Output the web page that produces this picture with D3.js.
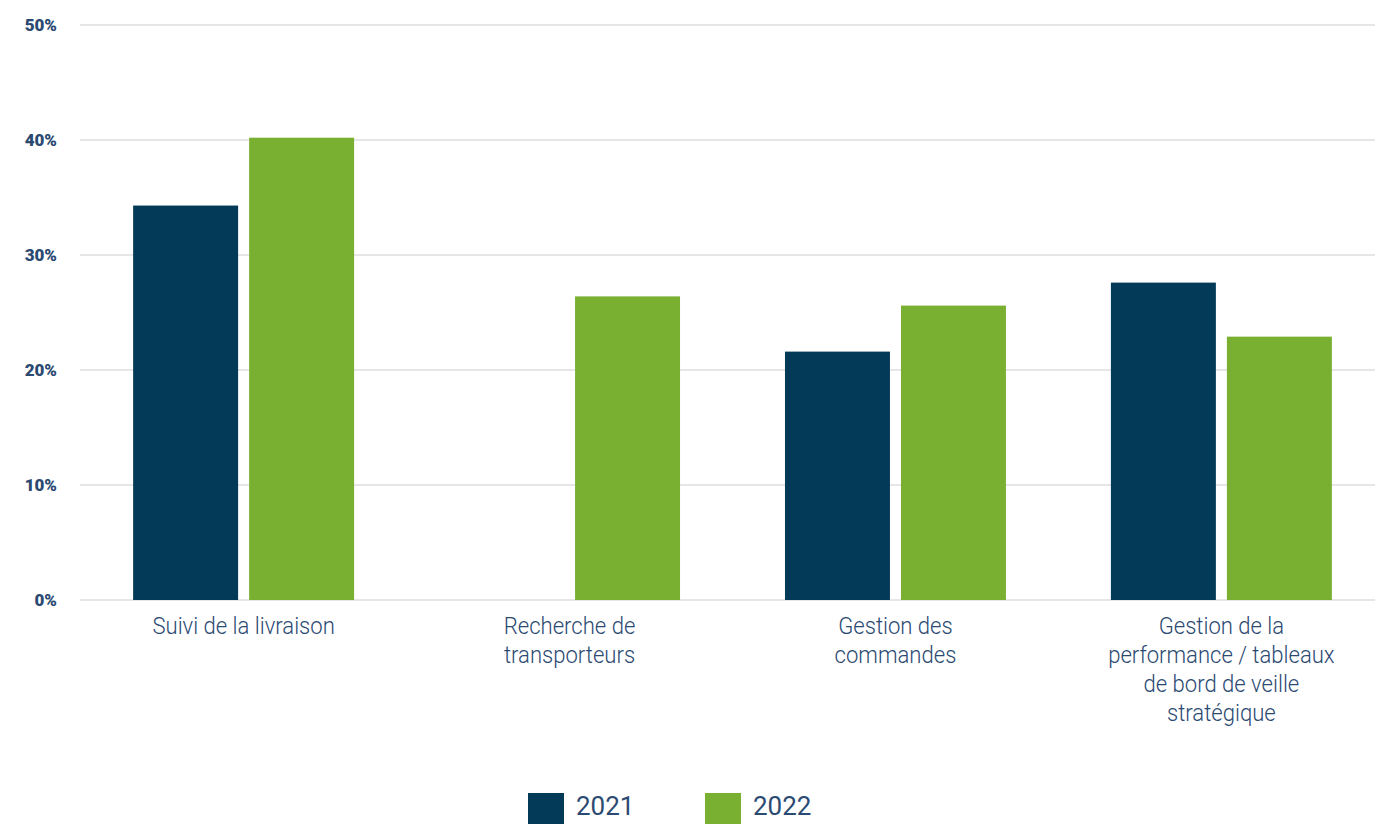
<!DOCTYPE html>
<html>
<head>
<meta charset="utf-8">
<script src="https://cdn.jsdelivr.net/npm/d3@7"></script>
<style>
  body { margin: 0; background: #fff; }
  svg { display: block; font-family: Roboto, "Noto Sans", sans-serif; }
</style>
</head>
<body>
<div id="chart"></div>
<script>
// categories (each label split in lines) and values per year
const categories = [
    ["Suivi de la livraison"],
    ["Recherche de", "transporteurs"],
    ["Gestion des", "commandes"],
    ["Gestion de la", "performance / tableaux", "de bord de veille", "stratégique"]
];
const years = ["2021", "2022"];
const values2021 = [34.3, null, 21.6, 27.6];
const values2022 = [40.2, 26.4, 25.6, 22.9];
const yTicks = [0, 10, 20, 30, 40, 50];
const colors = ["#033a57", "#7ab032"];

document.addEventListener("DOMContentLoaded", () => {
    let width = 1375, height = 824;

    let svg = d3.select("#chart")
        .append("svg")
        .attr("width", width)
        .attr("height", height);

    let idx = d3.range(categories.length);

    let x0 = d3.scaleBand()
        .domain(idx)
        .range([80, 1385])
        .paddingInner(0.322)
        .paddingOuter(0.163);

    let x1 = d3.scaleBand()
        .domain(years)
        .range([0, x0.bandwidth()])
        .paddingInner(0.095);

    let y = d3.scaleLinear().domain([0, 50]).range([600, 25]);

    // gridlines
    svg.append("g")
        .selectAll("line")
        .data(yTicks)
        .enter()
        .append("line")
        .attr("x1", 80)
        .attr("x2", width)
        .attr("y1", d => y(d))
        .attr("y2", d => y(d))
        .attr("stroke", "#e6e6e6")
        .attr("stroke-width", 2);

    // y labels
    svg.append("g")
        .selectAll("text")
        .data(yTicks)
        .enter()
        .append("text")
        .attr("x", 57)
        .attr("y", d => y(d))
        .attr("dy", "0.36em")
        .attr("text-anchor", "end")
        .attr("font-size", 17)
        .attr("font-weight", 900)
        .attr("fill", "#2b4a72")
        .text(d => d + "%");

    // bars
    let rows = [];
    idx.forEach(i => {
        rows.push({ i: i, year: "2021", v: values2021[i] });
        rows.push({ i: i, year: "2022", v: values2022[i] });
    });

    svg.append("g")
        .selectAll("rect")
        .data(rows.filter(d => d.v != null))
        .enter()
        .append("rect")
        .attr("x", d => x0(d.i) + x1(d.year))
        .attr("y", d => y(d.v))
        .attr("width", x1.bandwidth())
        .attr("height", d => y(0) - y(d.v))
        .attr("fill", d => colors[years.indexOf(d.year)]);

    // category labels (slightly condensed look)
    let labels = svg.append("g")
        .selectAll("g")
        .data(idx)
        .enter()
        .append("g")
        .attr("transform", i => "translate(" + (x0(i) + x0.bandwidth() / 2) + ",634) scale(0.96,1)");

    labels.selectAll("text")
        .data(i => categories[i])
        .enter()
        .append("text")
        .attr("y", (d, j) => j * 29)
        .attr("text-anchor", "middle")
        .attr("font-size", 23)
        .attr("font-weight", 300)
        .attr("fill", "#2b4a72")
        .text(d => d);

    // legend
    let legend = svg.append("g")
        .selectAll("g")
        .data(years)
        .enter()
        .append("g")
        .attr("transform", (d, i) => "translate(" + (528 + i * 177) + ",793)");

    legend.append("rect")
        .attr("width", 36)
        .attr("height", 36)
        .attr("fill", (d, i) => colors[i]);

    legend.append("text")
        .attr("x", 48)
        .attr("y", 22)
        .attr("font-size", 26)
        .attr("font-weight", 400)
        .attr("fill", "#2b4a72")
        .text(d => d);
});
</script>
</body>
</html>
